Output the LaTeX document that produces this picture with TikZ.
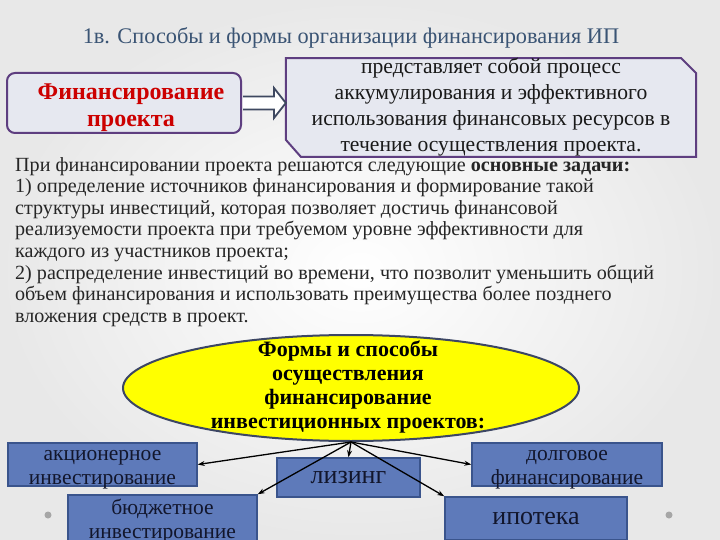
\documentclass[tikz,border=0pt]{standalone}
\usepackage{fontspec}
\setmainfont{Liberation Serif}
\usetikzlibrary{arrows.meta, positioning, calc, shapes.geometric, backgrounds}
\definecolor{titleblue}{RGB}{58,84,116}
\definecolor{frame}{RGB}{94,62,128}
\definecolor{paleback}{RGB}{230,232,240}
\definecolor{darrow}{RGB}{62,72,96}
\definecolor{formfill}{RGB}{255,255,0}
\definecolor{formline}{RGB}{60,70,100}
\definecolor{kindfill}{RGB}{94,122,186}
\definecolor{kindline}{RGB}{58,84,140}
\definecolor{kindtext}{RGB}{18,22,44}
\definecolor{bodytext}{RGB}{38,38,38}

\begin{document}
\begin{tikzpicture}[x=1pt, y=-1pt,
  kind/.style={draw=kindline, line width=1.5pt, fill=kindfill, text=kindtext,
    inner sep=0pt, align=center, font=\fontsize{21.5}{24}\selectfont},
  kindtxt/.style={inner sep=0pt, align=center, text=kindtext,
    font=\fontsize{21.5}{24}\selectfont},
  bigkind/.style={kind, font=\fontsize{26}{28}\selectfont},
  link/.style={-{Stealth[length=7pt, width=5pt]}, line width=1.3pt}]
  \useasboundingbox (0,0) rectangle (720,540);
  \clip (0,0) rectangle (720,540);

  \node[text=titleblue, font=\fontsize{22.3}{26}\selectfont] (title) at (351,38)
    {1в. Способы и формы организации финансирования ИП};
  \node[draw=frame, line width=2pt, fill=paleback, rounded corners=8pt,
    minimum width=234pt, minimum height=60pt] (fin) at (124,103) {};
  \node[align=center, inner sep=0pt, text=red!80!black,
    font=\bfseries\fontsize{24}{27}\selectfont] (fintxt)
    at ([xshift=7pt, yshift=-5pt]fin.center) {Финансирование\\проекта};
  \node[minimum width=410pt, minimum height=95pt, inner sep=0pt, align=center,
    text=black!90, font=\fontsize{21.6}{26}\selectfont] (defn) at (491,107.5)
    {представляет собой процесс\\аккумулирования и эффективного\\использования финансовых ресурсов в\\течение осуществления проекта.};
  \begin{scope}[on background layer]
    \shade[inner color=white, outer color=black!9] (0,0) rectangle (720,540);
    \draw[frame, line width=2pt, fill=paleback] (defn.north west)
      -- ($(defn.north east)+(-15,0)$) -- ($(defn.north east)+(0,15)$)
      -- (defn.south east) -- ($(defn.south west)+(15,0)$)
      -- ($(defn.south west)+(0,-17)$) -- cycle;
  \end{scope}
  \draw[darrow, line width=1.8pt, fill=white, line join=miter]
    ($(fin.east)+(1,-6.5)$) -- ($(fin.east)+(32,-6.5)$) -- ($(fin.east)+(32,-15)$)
    -- (fin.east -| defn.west) -- ($(fin.east)+(32,15)$) -- ($(fin.east)+(32,6.5)$)
    -- ($(fin.east)+(1,6.5)$);

  \node[anchor=north west, inner sep=0pt, align=left, text=bodytext,
    font=\fontsize{20.1}{21.6}\selectfont] (tasks) at (15,157)
    {При финансировании проекта решаются следующие \textbf{основные задачи:}\\
     1) определение источников финансирования и формирование такой\\
     структуры инвестиций, которая позволяет достичь финансовой\\
     реализуемости проекта при требуемом уровне эффективности для\\
     каждого из участников проекта;\\
     2) распределение инвестиций во времени, что позволит уменьшить общий\\
     объем финансирования и использовать преимущества более позднего\\
     вложения средств в проект.};

  \node[ellipse, draw=formline, line width=2pt, fill=formfill, inner sep=0pt,
    minimum width=456pt, minimum height=106pt] (forms) at (351,388) {};
  \node[align=center, inner sep=0pt, font=\bfseries\fontsize{22}{24}\selectfont]
    (formstxt) at (348,387)
    {Формы и способы\\осуществления\\финансирование\\инвестиционных проектов:};

  \node[kind, minimum width=189pt, minimum height=43pt] (shares) at (102.5,464.5) {};
  \node[kindtxt] (sharestxt) at ([yshift=-5pt]shares.center)
    {акционерное\\инвестирование};
  \node[kind, minimum width=189pt, minimum height=53pt] (budget) at (162.5,521.5)
    {бюджетное\\инвестирование};
  \node[bigkind, minimum width=143pt, minimum height=39pt] (leasing) at (348.5,477.5)
    {лизинг};
  \node[kind, minimum width=190pt, minimum height=43pt] (debt) at (567,464.5) {};
  \node[kindtxt] (debttxt) at ([yshift=-5pt]debt.center)
    {долговое\\финансирование};
  \node[bigkind, minimum width=182pt, minimum height=43pt] (mortgage) at (536,518.5)
    {ипотека};

  \coordinate (hub) at (forms.south);
  \draw[link] (hub) -- (shares.east);
  \draw[link] (hub) -- (budget.north east);
  \draw[link] (hub) -- (leasing.north);
  \draw[link] (hub) -- (debt.west);
  \draw[link] (hub) -- (mortgage.north west);

  \fill[black!35] (48,515) circle[radius=3.5pt];
  \fill[black!35] (669,515) circle[radius=3.5pt];
\end{tikzpicture}
\end{document}
